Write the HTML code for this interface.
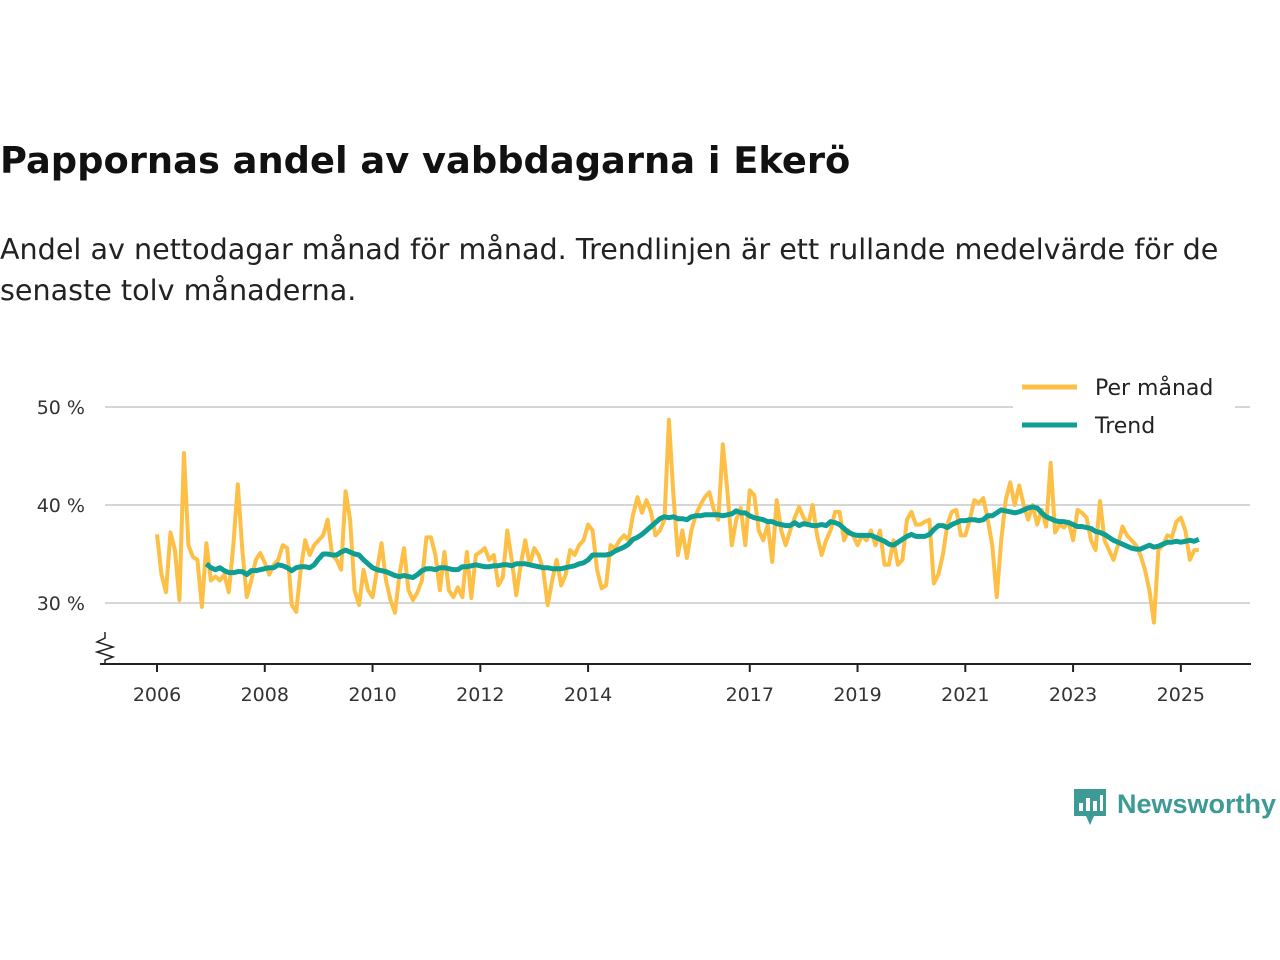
<!DOCTYPE html>
<html><head><meta charset="utf-8"><style>
body{margin:0;width:1280px;height:960px;background:#fff;font-family:"DejaVu Sans","Liberation Sans",sans-serif;overflow:hidden;position:relative}
#title{position:absolute;left:0;top:139px;font-size:36.8px;font-weight:bold;color:#111;margin:0;white-space:nowrap}
#sub{position:absolute;left:0;top:229px;font-size:28.6px;line-height:41px;color:#222;width:1275px;white-space:nowrap}
svg{position:absolute;left:0;top:0}
</style></head><body>
<h1 id="title">Pappornas andel av vabbdagarna i Ekerö</h1>
<div id="sub">Andel av nettodagar månad för månad. Trendlinjen är ett rullande medelvärde för de<br>senaste tolv månaderna.</div>
<svg id="chart" width="1280" height="960"></svg>
<script>
const monthly=[37,32.9,31.1,37.2,35.4,30.3,45.3,35.9,34.7,34.4,29.6,36.1,
32.3,32.7,32.3,32.9,31.1,35.9,42.1,35.4,30.6,32.3,34.4,35.1,
34.1,32.9,33.9,34.4,35.9,35.6,29.8,29.1,33.4,36.4,34.9,35.9,
36.4,36.9,38.5,34.9,34.4,33.4,41.4,38.5,31.3,29.8,33.4,31.3,
30.6,33.4,36.1,32.3,30.3,29,32.9,35.6,31.3,30.3,31.1,32.3,
36.7,36.7,34.9,31.3,35.2,31.3,30.6,31.6,30.6,35.2,30.5,34.9,
35.2,35.6,34.4,34.9,31.8,32.6,37.4,34.4,30.8,33.9,36.4,33.9,
35.6,34.9,33.4,29.8,32.3,34.4,31.8,32.9,35.4,34.9,35.9,36.4,
38,37.4,33.4,31.5,31.8,35.9,35.6,36.4,36.9,36.4,39,40.8,
39.2,40.5,39.3,36.9,37.4,38.5,48.7,41,34.9,37.4,34.6,37.4,
39,40,40.8,41.3,39.5,38.5,46.2,41.5,35.9,38.5,39.7,35.9,
41.5,41,37.4,36.4,38,34.2,40.5,37.4,35.9,37.4,38.7,39.8,
38.7,38,40,36.9,34.9,36.4,37.4,39.3,39.3,36.4,37.4,36.9,
35.9,36.9,36.4,37.4,35.9,37.4,33.9,33.9,36.4,33.9,34.4,38.5,
39.3,38,38,38.3,38.5,32,32.9,34.9,38,39.3,39.5,36.9,
36.9,38.5,40.5,40.2,40.7,38.5,35.9,30.6,36.4,40.5,42.3,40,
42,40,38.5,40,38,39.5,37.8,44.3,37.2,38,37.7,38.3,
36.4,39.5,39.2,38.7,36.4,35.4,40.4,36.4,35.4,34.4,35.9,37.8,
36.9,36.4,35.9,34.9,33.4,31.3,28,35.4,35.9,36.9,36.7,38.3,
38.7,37.4,34.4,35.4,35.4];
const trendStart=11;
const trend=[34,
33.6,33.4,33.6,33.3,33.1,33.1,33.2,33.2,32.9,33.3,33.3,33.4,
33.5,33.6,33.6,33.9,33.8,33.6,33.3,33.6,33.7,33.7,33.6,33.9,
34.5,35,35,34.9,34.9,35.2,35.4,35.2,35,34.9,34.4,34,
33.6,33.4,33.3,33.2,33,32.8,32.7,32.8,32.7,32.6,32.9,33.3,
33.5,33.5,33.4,33.6,33.6,33.5,33.4,33.4,33.7,33.7,33.8,33.9,
33.8,33.7,33.7,33.8,33.8,33.9,33.9,33.8,34,34,34,33.9,
33.8,33.7,33.6,33.6,33.5,33.5,33.5,33.6,33.7,33.8,34,34.1,
34.4,34.9,34.9,34.9,34.9,35,35.3,35.5,35.7,36,36.5,36.7,
37,37.4,37.8,38.2,38.6,38.8,38.7,38.8,38.6,38.6,38.5,38.8,
38.9,38.9,39,39,39,39,38.9,39,39.1,39.4,39.2,39.2,
38.9,38.7,38.6,38.5,38.3,38.3,38.1,38,37.9,37.9,38.2,37.9,
38.1,38,37.9,37.9,38,37.9,38.3,38.2,38,37.6,37.2,37,
36.9,36.9,36.9,36.9,36.7,36.5,36.3,36,35.9,36.2,36.5,36.8,
37,36.8,36.8,36.8,37,37.5,37.9,37.9,37.7,38,38.2,38.4,
38.4,38.5,38.5,38.4,38.5,38.9,38.9,39.2,39.5,39.4,39.3,39.2,
39.3,39.5,39.7,39.8,39.7,39.2,38.8,38.6,38.4,38.3,38.3,38.2,
38,37.8,37.8,37.7,37.6,37.3,37.2,37,36.7,36.4,36.2,36,
35.8,35.6,35.5,35.5,35.7,35.9,35.7,35.8,36,36.2,36.2,36.3,
36.2,36.3,36.4,36.3,36.5];
const yTicks=[30,40,50];
const xTickYears=[2006,2008,2010,2012,2014,2017,2019,2021,2023,2025];
const startYear=2006;

const NS='http://www.w3.org/2000/svg';
const svg=document.getElementById('chart');
const x=i=>157+i*4.4906;
const y=v=>407+(50-v)*9.8;
function mk(t,a){const e=document.createElementNS(NS,t);for(const k in a)e.setAttribute(k,a[k]);svg.appendChild(e);return e;}
yTicks.forEach(t=>{
  const g=mk('line',{x1:105,x2:1250,y1:y(t),y2:y(t),stroke:'#d6d6d6','stroke-width':2});
  
  
  const l=mk('text',{x:85,y:y(t)+7,'text-anchor':'end','font-size':19,fill:'#333'});
  l.textContent=t+' %';
  
  
});
const ax=mk('line',{x1:100,x2:1251,y1:664,y2:664,stroke:'#222','stroke-width':2});


const zz=mk('path',{d:'M105 632 L105 638 L97 642 L113 647 L97 652 L113 657 L105 660 L105 664',fill:'none',stroke:'#222','stroke-width':1.5});


xTickYears.forEach(yr=>{
  const xi=x((yr-startYear)*12);
  const t=mk('line',{x1:xi,x2:xi,y1:664,y2:672,stroke:'#222','stroke-width':2});
  
  
  const l=mk('text',{x:xi,y:701,'text-anchor':'middle','font-size':19,fill:'#333'});
  l.textContent=yr;
  
  
});
const p1=mk('polyline',{points:monthly.map((v,i)=>x(i)+','+y(v)).join(' '),fill:'none',stroke:'#fdbf46','stroke-width':4,'stroke-linejoin':'round'});


const p2=mk('polyline',{points:trend.map((v,i)=>x(i+trendStart)+','+y(v)).join(' '),fill:'none',stroke:'#0f9e94','stroke-width':5,'stroke-linejoin':'round'});


const lb=mk('rect',{x:1013,y:368,width:222,height:78,fill:'#fff'});


[['Per månad','#fdbf46',387],['Trend','#0f9e94',425]].forEach(([n,c,yy],k)=>{
  const l=mk('line',{x1:1022,x2:1077,y1:yy,y2:yy,stroke:c,'stroke-width':5});
  
  
  const t=mk('text',{x:1095,y:yy+8,'font-size':22,fill:'#222'});
  t.textContent=n;
  
  
});
const logo=mk('g',{});


logo.innerHTML='<path d="M1074 789 h32 v27 h-12 l-4 9 l-4 -9 h-12 z" fill="#3d9a94"/><rect x="1079" y="803" width="4" height="8" fill="#fff"/><rect x="1086" y="798" width="4" height="13" fill="#fff"/><rect x="1093" y="801" width="4" height="10" fill="#fff"/><rect x="1100" y="795" width="3" height="16" fill="#fff"/><text x="1117" y="813" font-size="27" font-weight="bold" fill="#3d9a94" font-family="Liberation Sans, sans-serif">Newsworthy</text>';
</script>
</body></html>
